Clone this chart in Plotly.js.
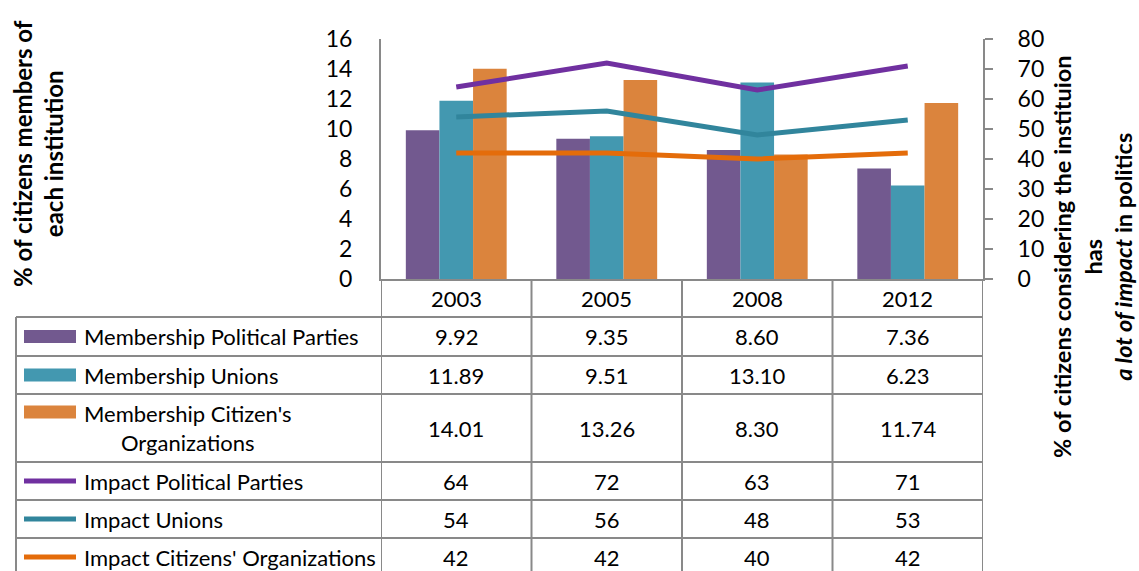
<!DOCTYPE html>
<html><head><meta charset="utf-8">
<script src="https://cdn.plot.ly/plotly-3.0.1.min.js"></script>
<style>html,body{margin:0;padding:0;background:#fff;} #chart{width:1139px;height:571px;}</style>
</head><body><div id="chart"></div>
<script>
// ---- data ----
const years = ['2003', '2005', '2008', '2012'];
const memParties = [9.92, 9.35, 8.60, 7.36];
const memUnions = [11.89, 9.51, 13.10, 6.23];
const memCitizens = [14.01, 13.26, 8.30, 11.74];
const impParties = [64, 72, 63, 71];
const impUnions = [54, 56, 48, 53];
const impCitizens = [42, 42, 40, 42];
const seriesNames = ['Membership Political Parties', 'Membership Unions', "Membership Citizen's<br>Organizations",
  'Impact Political Parties', 'Impact Unions', "Impact Citizens' Organizations"];
const leftTitle = '% of citizens members of<br>each institution';
const rightTitle = '% of citizens considering the instituion<br>has<br><i>a lot of impact</i> in politics';

// ---- styling ----
const barColors = ['#72598F', '#4398B0', '#DB843D'];
const lineColors = ['#7030A0', '#31859C', '#E46C0A'];
const gridCol = '#898989';
const FONT = 'Lato, "Open Sans", sans-serif';
const TXT = 22;
const W = 1139, H = 571, L = 381, R = 983, T = 39, B = 279;
const px = x => (x - L) / (R - L);
const py = y => (B - y) / (B - T);

const barSeries = [memParties, memUnions, memCitizens];
const lineSeries = [impParties, impUnions, impCitizens];

const traces = [];
barSeries.forEach((s, i) => traces.push({
  type: 'bar', x: years, y: s, name: seriesNames[i], marker: {color: barColors[i]}, yaxis: 'y', showlegend: false, hoverinfo: 'none'
}));
lineSeries.forEach((s, i) => traces.push({
  type: 'scatter', mode: 'lines', x: years, y: s, name: seriesNames[i + 3], yaxis: 'y2',
  line: {color: lineColors[i], width: 5}, showlegend: false, hoverinfo: 'none'
}));

// table geometry (pixel rows)
const rowTops = [317, 356, 394, 462, 500, 538];
const rowBots = [356, 394, 462, 500, 538, 576];
const shapes = [];
const annotations = [];
const lineStyle = {color: gridCol, width: 2};
rowTops.forEach(y => shapes.push({type: 'line', xref: 'paper', yref: 'paper', x0: px(16), x1: 1, y0: py(y), y1: py(y), line: lineStyle}));
for (let k = 0; k <= years.length; k++) {
  shapes.push({type: 'line', xref: 'x', yref: 'paper', x0: k - 0.5, x1: k - 0.5, y0: 0, y1: py(575), line: lineStyle});
}
shapes.push({type: 'line', xref: 'paper', yref: 'paper', x0: px(16), x1: px(16), y0: py(317), y1: py(575), line: lineStyle});

// header year labels (category index positions)
years.forEach((yr, c) => annotations.push({x: c, xref: 'x', y: py(298), yref: 'paper', text: yr, showarrow: false,
  font: {family: FONT, size: TXT, color: '#000'}, xanchor: 'center', yanchor: 'middle'}));

const allSeries = [memParties, memUnions, memCitizens, impParties, impUnions, impCitizens];
allSeries.forEach((s, r) => {
  const yc = (rowTops[r] + rowBots[r]) / 2;
  const cy = py(r === 5 ? 557 : yc);
  annotations.push({x: px(82), xref: 'paper', y: cy, yref: 'paper', text: seriesNames[r], showarrow: false,
    font: {family: FONT, size: TXT, color: '#000'}, xanchor: 'left', yanchor: 'middle', align: 'center'});
  if (r < 3) {
    const ky = r === 2 ? 412 : yc;
    shapes.push({type: 'rect', xref: 'paper', yref: 'paper', x0: px(24), x1: px(76), y0: py(ky - 6.5), y1: py(ky + 6.5),
      fillcolor: barColors[r], line: {width: 0}});
  } else {
    shapes.push({type: 'line', xref: 'paper', yref: 'paper', x0: px(24), x1: px(76), y0: cy, y1: cy,
      line: {color: lineColors[r - 3], width: 5}});
  }
  s.forEach((v, c) => annotations.push({x: c, xref: 'x', y: cy, yref: 'paper',
    text: r < 3 ? v.toFixed(2) : String(v), showarrow: false,
    font: {family: FONT, size: TXT, color: '#000'}, xanchor: 'center', yanchor: 'middle'}));
});

// axis titles
annotations.push({x: px(38), xref: 'paper', y: py(154), yref: 'paper', text: '<b>' + leftTitle + '</b>', textangle: -90,
  showarrow: false, font: {family: FONT, size: 24, color: '#000'}, xanchor: 'center', yanchor: 'middle', align: 'center'});
annotations.push({x: px(1092), xref: 'paper', y: py(257), yref: 'paper', text: '<b>' + rightTitle + '</b>', textangle: -90,
  showarrow: false, font: {family: FONT, size: 23.5, color: '#000'}, xanchor: 'center', yanchor: 'middle', align: 'center'});

const layout = {
  width: W, height: H,
  margin: {l: L, r: W - R, t: T, b: H - B, pad: 0},
  paper_bgcolor: '#fff', plot_bgcolor: '#fff',
  barmode: 'group', bargap: 0.33, bargroupgap: 0,
  font: {family: FONT, color: '#000'},
  xaxis: {type: 'category', showticklabels: false, ticks: '', showgrid: false, zeroline: false,
    showline: true, linecolor: gridCol, linewidth: 2, range: [-0.5, 3.5], fixedrange: true},
  yaxis: {range: [0, 16], dtick: 2, tick0: 0, showgrid: false, zeroline: false, showline: true,
    linecolor: gridCol, linewidth: 2, ticks: '', ticklabelstandoff: 22,
    tickfont: {family: FONT, size: 23, color: '#000'}},
  yaxis2: {range: [0, 80], dtick: 10, tick0: 0, overlaying: 'y', side: 'right', showgrid: false, zeroline: false,
    showline: true, linecolor: gridCol, linewidth: 2, ticks: 'outside', ticklen: 8, tickcolor: gridCol, tickwidth: 2,
    ticklabelstandoff: 20, tickfont: {family: FONT, size: 23, color: '#000'}},
  shapes: shapes,
  annotations: annotations,
  showlegend: false
};
Plotly.newPlot('chart', traces, layout, {displayModeBar: false, staticPlot: true});
</script>
</body></html>
